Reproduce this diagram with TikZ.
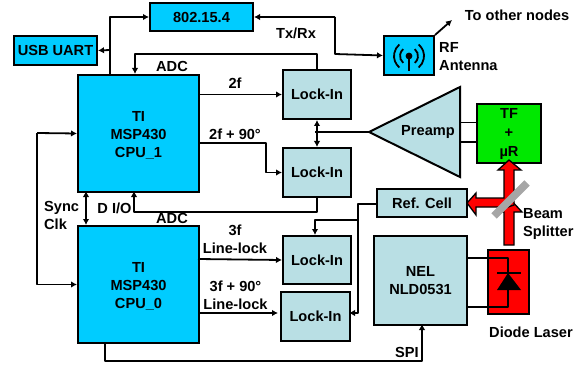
\documentclass[tikz,border=0pt]{standalone}
\usepackage{fontspec}
\setmainfont{Liberation Sans}
\usetikzlibrary{positioning,arrows.meta}
\definecolor{cpublue}{RGB}{0,204,255}
\definecolor{lockteal}{RGB}{185,223,228}
\definecolor{tfgreen}{RGB}{0,232,0}
\begin{document}
\begin{tikzpicture}[
    x=1pt, y=-1pt,
    chip/.style={rectangle, draw, line width=2pt, fill=cpublue, anchor=north west, align=center, inner sep=0pt, font=\fontsize{14.6}{18}\selectfont\bfseries},
    lockin/.style={chip, fill=lockteal},
    lbl/.style={align=center, inner sep=0pt, font=\fontsize{14.6}{18}\selectfont\bfseries},
    arr/.style={-{Latex[length=6pt,width=6.5pt]}, line width=1.8pt, line join=round},
    dblarr/.style={{Latex[length=6pt,width=6.5pt]}-{Latex[length=6pt,width=6.5pt]}, line width=1.8pt},
    wire/.style={line width=1.8pt, line join=round},
    beam/.style={draw, line width=1.3pt, fill=red, line join=miter}
]
\useasboundingbox (0,0) rectangle (585,366);

% boxes
\node[chip, minimum width=103pt, minimum height=28pt] (radio) at (149,2) {802.15.4};
\node[chip, minimum width=83pt, minimum height=29pt] (usb) at (13,35) {USB UART};
\node[chip, minimum width=121pt, minimum height=117pt] (cpua) at (77,74) {\rule{0pt}{14pt}TI\\MSP430\\CPU\_1};
\node[chip, minimum width=121pt, minimum height=117pt] (cpub) at (77,225) {\rule{0pt}{14pt}TI\\MSP430\\CPU\_0};
\node[lockin, minimum width=68pt, minimum height=49pt] (locka) at (282,69) {Lock-In};
\node[lockin, minimum width=68pt, minimum height=49pt] (lockb) at (282,147) {Lock-In};
\node[lockin, minimum width=68pt, minimum height=48pt] (lockc) at (282,235) {Lock-In};
\node[lockin, minimum width=69pt, minimum height=49pt] (lockd) at (280,291) {Lock-In};
\node[lockin, minimum width=90pt, minimum height=28pt] (refcell) at (376,188) {Ref. Cell};
\node[lockin, minimum width=93pt, minimum height=89pt] (nel) at (373,235) {NEL\\NLD0531};
\node[chip, fill=red, minimum width=41pt, minimum height=64pt] (laser) at (487,249) {};
\node[chip, fill=tfgreen, minimum width=64pt, minimum height=59pt, font=\fontsize{14.6}{19}\selectfont\bfseries] (tf) at (476,103) {TF\\+\\µR};
\node[chip, minimum width=50pt, minimum height=39pt] (rf) at (383,35) {};
\draw[line width=2pt, fill=lockteal, line join=miter] (369,132) coordinate (preamptip) -- (460,87) -- (460,177) -- cycle;
\node[lbl] (preamp) at (428,132) {Preamp};

% free ends of the connectors
\coordinate (cpuatop) at (110,74);
\coordinate (usbtap) at (110,50);
\coordinate (rfbend) at (335,54);
\coordinate (adcain) at (135,74);
\coordinate (quadaout) at (198,143);
\coordinate (quadabend) at (266,143);
\coordinate (sclkleft) at (37,133);
\coordinate (sclka) at (86,191);
\coordinate (sclkb) at (86,225);
\coordinate (adcbin) at (134,191);
\coordinate (threefout) at (198,259);
\coordinate (quadbout) at (198,313);
\coordinate (quadbin) at (278,313);
\coordinate (spiout) at (105,342);
\coordinate (spicorner) at (422,361);
\coordinate (spiin) at (422,324);
\coordinate (preampjoin) at (315,132);
\coordinate (refout) at (376,204);
\coordinate (refbend) at (358,204);
\coordinate (reftap) at (358,220);
\coordinate (lockdin) at (349,313);
\coordinate (lockctop) at (315,235);
\coordinate (tfa) at (476,122.5);
\coordinate (tfb) at (476,142);
\coordinate (amptfa) at (460,122.5);
\coordinate (amptfb) at (460,142);
\coordinate (nelhi) at (466,258);
\coordinate (nello) at (466,307);
\coordinate (diodex) at (508,258);
\coordinate (nodesend) at (452,20);

% wires
\draw[arr] (cpuatop) |- (radio.west);
\draw[arr] (usbtap) -- (usb.east);
\draw[arr] (radio.east -| rfbend) -- (radio.east);
\draw[arr] (radio.east -| rfbend) -- (rfbend) -- (rf.west);
\draw[arr] (rf.north east) -- (nodesend);
\draw[arr] (locka.north) -- ++(0,-15) -| (adcain);
\draw[arr] (cpua.east |- locka.west) -- (locka.west);
\draw[arr] (quadaout) -- (quadabend) |- (lockb.west);
\draw[arr] (sclkleft) -- (cpua.west);
\draw[arr] (sclkleft) |- (cpub.west);
\draw[dblarr] (sclka) -- (sclkb);
\draw[arr] (lockb.south) -- ++(0,14) -| (adcbin);
\draw[arr] (threefout) -- (lockc.west);
\draw[arr] (quadbout) -- (quadbin);
\draw[arr] (spiout) |- (spicorner) -- (spiin);
\draw[wire] (preamptip) -- (preampjoin);
\draw[dblarr] (locka.south) -- (lockb.north);
\draw[wire] (amptfa) -- (tfa);
\draw[wire] (amptfb) -- (tfb);
\draw[arr] (refout) -- (refbend) |- (lockdin);
\draw[arr] (reftap) -| (lockctop);
\draw[wire] (nelhi) -- (diodex) -- (diodex |- nello) -- (nello);

% diode
\fill (508,273) -- (521,290) -- (497,290) -- cycle;
\draw[line width=1.8pt] (497,273) -- (521,273);

% laser beams
\path[beam] (504,245) -- (514,245) -- (514,212) -- (522,212) -- (509,198) -- (497,212) -- (504,212) -- cycle;
\path[beam] (514,205) -- (514,170) -- (521,170) -- (509,160) -- (498,170) -- (504,170) -- (504,198) -- (476,198) -- (476,193) -- (467,203) -- (476,215) -- (476,207) -- (508,207) -- cycle;
\draw[line width=7.5pt, gray!70] (494,216) -- (527,183);

% antenna glyph
\fill (409,56) circle (3.4pt);
\draw[line width=1.8pt] (409,56) -- (409,71);
\foreach \r in {9,15} {
  \draw[line width=1.8pt] (409,56) ++(-50:\r) arc (-50:50:\r);
  \draw[line width=1.8pt] (409,56) ++(130:\r) arc (130:230:\r);
}

% labels
\node[lbl] (lbltxrx) at (296,33) {Tx/Rx};
\node[lbl] (lblnodes) at (517,15) {To other nodes};
\node[lbl, align=left, anchor=west] (lblrf) at (439,57) {RF\\Antenna};
\node[lbl] (lbladca) at (172,66) {ADC};
\node[lbl] (lbltwof) at (235,83) {2f};
\node[lbl] (lbltwofq) at (235,134) {2f + 90°};
\node[lbl, align=left, anchor=west] (lblsync) at (44,215) {Sync\\Clk};
\node[lbl] (lbldio) at (114.5,208) {D I/O};
\node[lbl] (lbladcb) at (172,218) {ADC};
\node[lbl] (lblthreef) at (235,239) {3f\\Line-lock};
\node[lbl] (lblthreefq) at (235.5,295) {3f + 90°\\Line-lock};
\node[lbl] (lblspi) at (407,352) {SPI};
\node[lbl, align=left, anchor=west] (lblbeam) at (523,224) {Beam\\Splitter};
\node[lbl] (lbllaser) at (531,332) {Diode Laser};
\end{tikzpicture}
\end{document}
